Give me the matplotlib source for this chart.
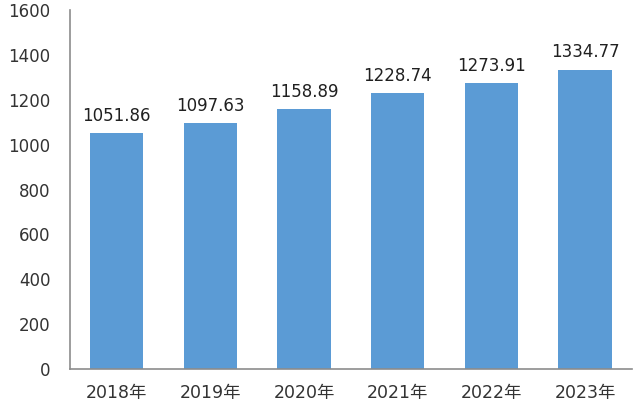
import matplotlib
import matplotlib.pyplot as plt

matplotlib.use("Agg")

plt.rcParams["font.family"] = ["DejaVu Sans", "Noto Sans CJK SC"]

years = ["2018年", "2019年", "2020年", "2021年", "2022年", "2023年"]
values = [1051.86, 1097.63, 1158.89, 1228.74, 1273.91, 1334.77]
y_ticks = [0, 200, 400, 600, 800, 1000, 1200, 1400, 1600]

BAR_COLOR = "#5b9bd5"
TEXT_COLOR = "#333333"
AXIS_COLOR = "#8c8c8c"

fig = plt.figure(figsize=(6.4, 4.07), dpi=100)
ax = fig.add_axes([0.109, 0.0934, 0.8785, 0.8816])

x = range(len(years))
bars = ax.bar(x, values, width=0.57, color=BAR_COLOR)

# value labels above bars
for rect, v in zip(bars, values):
    ax.annotate(
        f"{v:.2f}",
        xy=(rect.get_x() + rect.get_width() / 2, v),
        xytext=(0, 6),
        textcoords="offset points",
        ha="center",
        va="bottom",
        fontsize=12,
        color="#202020",
    )

ax.set_xlim(-0.5, len(years) - 0.5)
ax.set_ylim(0, 1600)
ax.set_yticks(y_ticks)
ax.set_xticks(list(x))
ax.set_xticklabels(years)

ax.tick_params(axis="both", length=0, labelsize=12, colors=TEXT_COLOR)
ax.tick_params(axis="x", pad=11, labelsize=12.5)
ax.tick_params(axis="y", pad=14)

for side in ["top", "right"]:
    ax.spines[side].set_visible(False)
for side in ["left", "bottom"]:
    ax.spines[side].set_color(AXIS_COLOR)
    ax.spines[side].set_linewidth(1.2)

fig.savefig("out.png", dpi=100)
